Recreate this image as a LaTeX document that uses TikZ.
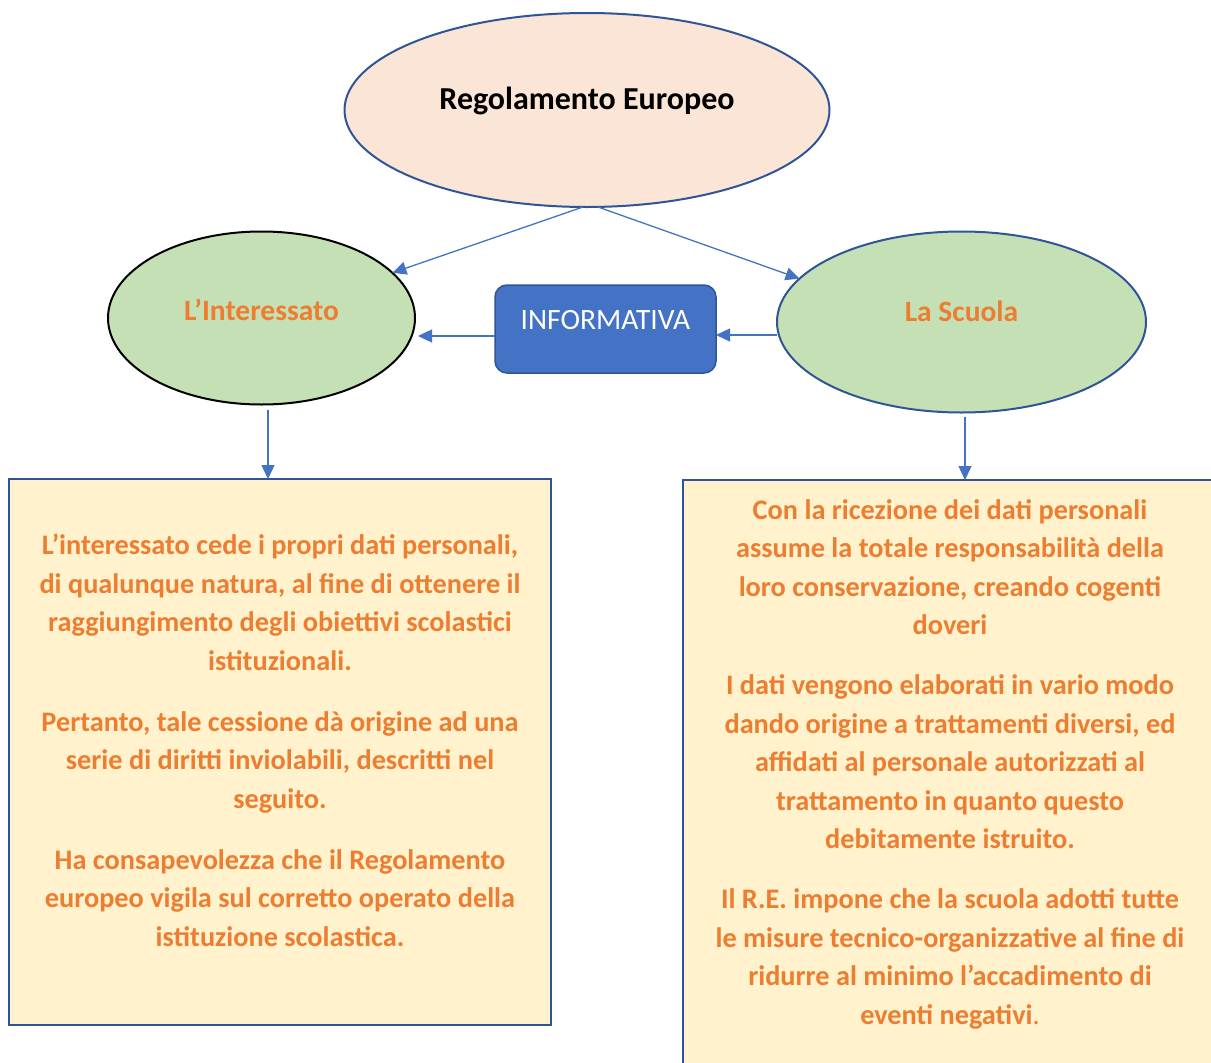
\documentclass[tikz,border=0pt]{standalone}
\usepackage{fontspec}
\setmainfont{Carlito}
\usetikzlibrary{shapes.geometric,arrows.meta}

\definecolor{bordo}{HTML}{2F5597}
\definecolor{blu}{HTML}{4472C4}
\definecolor{pesca}{HTML}{FBE5D6}
\definecolor{verde}{HTML}{C5E0B4}
\definecolor{crema}{HTML}{FFF2CC}
\definecolor{arancio}{HTML}{ED7D31}

\tikzset{
  oval/.style={ellipse, draw, line width=2pt, inner sep=0pt, outer sep=0pt},
  testo/.style={font=\bfseries\fontsize{28.3}{38.5}\selectfont, text=arancio, align=center, inner sep=0pt},
  riquadro/.style={draw=bordo, fill=crema, line width=2.2pt, inner sep=0pt, outer sep=0pt},
  freccia/.style={draw=blu, line width=1.3pt, -{Triangle[length=14pt,width=13pt]}}
}

\begin{document}
\begin{tikzpicture}[x=1pt,y=-1pt]
\clip (0,0) rectangle (1211,1063);

% ellissi
\node[oval, draw=bordo, fill=pesca, minimum width=485pt, minimum height=194pt] (reg) at (587,110) {};
\node[font=\bfseries\fontsize{32}{36}\selectfont] (regtxt) at ([yshift=9pt]reg.center) {Regolamento Europeo};

\node[oval, draw=black, fill=verde, minimum width=307pt, minimum height=173pt] (int) at (261.5,318) {};
\node[testo, font=\bfseries\fontsize{29.5}{34}\selectfont] (inttxt) at ([yshift=8pt]int.center) {L’Interessato};

\node[oval, draw=bordo, fill=verde, minimum width=369pt, minimum height=181pt] (sc) at (961.5,322) {};
\node[testo, font=\bfseries\fontsize{29.5}{34}\selectfont] (sctxt) at ([yshift=11pt]sc.center) {La Scuola};

% informativa
\node[draw=bordo, fill=blu, line width=1.5pt, rounded corners=12pt, minimum width=221pt, minimum height=88pt, inner sep=0pt, outer sep=0pt] (inf) at (605.5,329) {};
\node[text=white, font=\fontsize{29.5}{34}\selectfont] (inftxt) at ([yshift=9pt]inf.center) {INFORMATIVA};

% riquadri
\node[riquadro, minimum width=542pt, minimum height=546pt] (lbox) at (280,752) {};
\node[riquadro, minimum width=542pt, minimum height=600pt] (rbox) at (954,780) {};

\node[testo, anchor=north] (ltxt) at (280,534) {L’interessato cede i propri dati personali,\\
di qualunque natura, al fine di ottenere il\\
raggiungimento degli obiettivi scolastici\\
istituzionali.\\[22.5pt]
Pertanto, tale cessione dà origine ad una\\
serie di diritti inviolabili, descritti nel\\
seguito.\\[22.5pt]
Ha consapevolezza che il Regolamento\\
europeo vigila sul corretto operato della\\
istituzione scolastica.};

\node[testo, anchor=north] (rtxt) at (950,499) {Con la ricezione dei dati personali\\
assume la totale responsabilità della\\
loro conservazione, creando cogenti\\
doveri\\[21.5pt]
I dati vengono elaborati in vario modo\\
dando origine a trattamenti diversi, ed\\
affidati al personale autorizzati al\\
trattamento in quanto questo\\
debitamente istruito.\\[21.5pt]
Il R.E. impone che la scuola adotti tutte\\
le misure tecnico-organizzative al fine di\\
ridurre al minimo l’accadimento di\\
eventi negativi{\mdseries .}};

% frecce
\draw[freccia] ([xshift=-4pt]reg.south) -- (int);
\draw[freccia] ([xshift=11pt]reg.south) -- (sc.165);
\draw[freccia] ([yshift=-7pt]inf.west) -- ([yshift=-7pt,xshift=3pt]inf.west -| int.east);
\draw[freccia] ([yshift=-6pt]inf.east -| sc.west) -- ([yshift=-6pt]inf.east);
\draw[freccia] ([xshift=6.5pt,yshift=-5pt]int.south) -- ([xshift=-12pt]lbox.north);
\draw[freccia] ([xshift=3.5pt,yshift=-4pt]sc.south) -- ([xshift=11pt]rbox.north);
\end{tikzpicture}
\end{document}
